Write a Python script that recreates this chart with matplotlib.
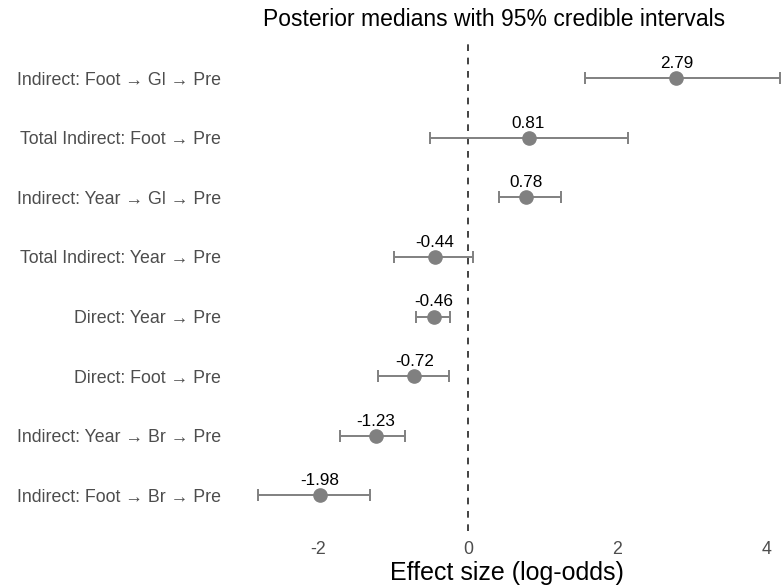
import numpy as np
import matplotlib.pyplot as plt

plt.rcParams['font.family'] = ['Liberation Sans', 'DejaVu Sans']
plt.rcParams['axes.unicode_minus'] = False

# effetti, dall'alto verso il basso
labels = ["Indirect: Foot → Gl → Pre",
          "Total Indirect: Foot → Pre",
          "Indirect: Year → Gl → Pre",
          "Total Indirect: Year → Pre",
          "Direct: Year → Pre",
          "Direct: Foot → Pre",
          "Indirect: Year → Br → Pre",
          "Indirect: Foot → Br → Pre"]
median = [2.79, 0.81, 0.78, -0.44, -0.46, -0.72, -1.23, -1.98]
lower = [1.56, -0.51, 0.41, -0.99, -0.69, -1.21, -1.72, -2.81]
upper = [4.18, 2.14, 1.25, 0.07, -0.24, -0.26, -0.85, -1.31]
xticks = [-2, 0, 2, 4]

n = len(labels)
y = np.arange(n, 0, -1)
med = np.array(median)
err = [med - np.array(lower), np.array(upper) - med]

fig = plt.figure(figsize=(7.81, 5.87), dpi=100)
ax = fig.add_axes([0.297, 0.095, 0.703, 0.833])

ax.axvline(0, color="#222222", linestyle=(0, (4, 4)), linewidth=1.2, zorder=1)
ax.errorbar(med, y, xerr=err, fmt="none", ecolor="#808080", elinewidth=1.4,
            capsize=4.5, capthick=1.4, zorder=2)
ax.plot(med, y, "o", color="#808080", markersize=9.5, zorder=3)

for xi, yi in zip(med, y):
    ax.text(xi, yi + 0.12, f"{xi:.2f}", ha="center", va="bottom", fontsize=12.3, color="black")

ax.set_xlim(-3.16, 4.19)
ax.set_ylim(0.4, n + 0.6)
ax.set_yticks(y)
ax.set_yticklabels(labels)
ax.set_xticks(xticks)
ax.tick_params(length=0, labelsize=12.8, labelcolor="#4D4D4D", pad=8)
ax.tick_params(axis="x", pad=7)
for s in ax.spines.values():
    s.set_visible(False)

ax.set_xlabel("Effect size (log-odds)", fontsize=18, labelpad=2)
fig.text(494 / 781, 1 - 20 / 587, "Posterior medians with 95% credible intervals",
         ha="center", va="center", fontsize=16.5)

fig.savefig("out.png", dpi=100)
